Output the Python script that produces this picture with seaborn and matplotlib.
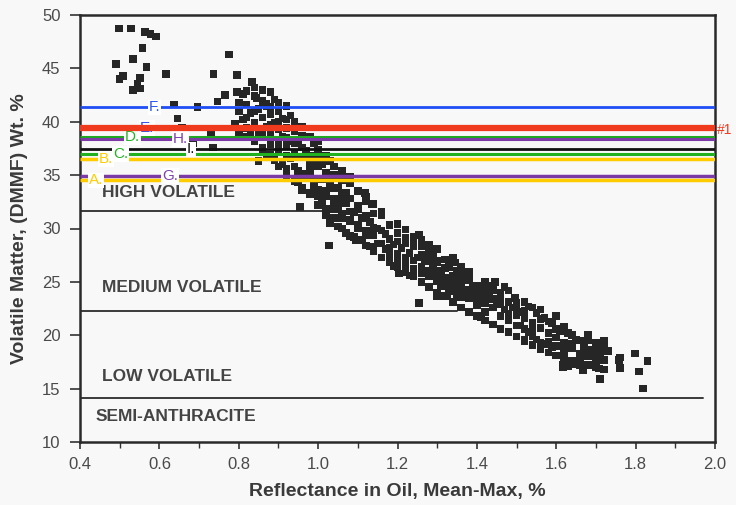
import matplotlib
matplotlib.use("Agg")
import matplotlib.pyplot as plt
import seaborn as sns
import pandas as pd
from matplotlib.ticker import MultipleLocator

# ── 数据: 反射率 vs 挥发分 ──
sparse_x = [0.498, 0.528, 0.564, 0.578, 0.591, 0.557, 0.533, 0.491, 0.568, 0.508,
            0.551, 0.617, 0.534, 0.551, 0.776, 0.736, 0.795, 0.834, 0.795, 0.765,
            0.746, 0.845, 0.637, 0.696, 0.646, 0.870, 0.657, 0.685, 0.735, 0.500,
            0.545, 0.730]
sparse_y = [48.75, 48.75, 48.4, 48.2, 47.97, 46.9, 45.9, 45.4, 45.15, 44.3,
            44.1, 44.5, 42.97, 43.1, 46.3, 44.45, 44.4, 43.75, 42.8, 42.5,
            41.9, 42.2, 41.6, 41.4, 40.3, 41.7, 39.4, 38.0, 37.6, 44.0,
            43.6, 39.0]

band_x = [
    0.80, 0.81, 0.82, 0.82, 0.83, 0.84, 0.84, 0.85, 0.85, 0.86, 0.86, 0.87, 0.87,
    0.88, 0.88, 0.89, 0.89, 0.90, 0.90, 0.91, 0.83, 0.79, 0.81, 0.92, 0.93,
    0.86, 0.87, 0.88, 0.89, 0.90, 0.90, 0.91, 0.91, 0.92, 0.92, 0.93, 0.93,
    0.94, 0.94, 0.95, 0.95, 0.96, 0.96, 0.97, 0.97, 0.88, 0.85, 0.98, 0.99, 1.00,
    0.95, 0.96, 0.97, 0.98, 0.98, 0.99, 1.00, 1.00, 1.01, 1.01, 1.02, 1.02,
    1.03, 1.03, 1.04, 1.04, 1.05, 1.05, 1.06, 1.06, 1.07, 1.08, 1.08, 0.99, 1.01,
    1.02, 1.03, 1.04, 1.05, 1.06, 1.07, 1.07, 1.08, 1.09, 1.09, 1.10, 1.10,
    1.11, 1.11, 1.12, 1.12, 1.13, 1.14, 1.14, 1.15, 1.15, 1.16, 1.13, 1.17,
    1.17, 1.18, 1.18, 1.19, 1.20, 1.20, 1.21, 1.22, 1.22, 1.23, 1.24, 1.24,
    1.25, 1.26, 1.26, 1.27, 1.28, 1.28, 1.19, 1.29, 1.23,
    1.29, 1.30, 1.30, 1.31, 1.31, 1.32, 1.32, 1.33, 1.33, 1.34, 1.35, 1.35,
    1.36, 1.36, 1.37, 1.34, 1.38,
    1.38, 1.39, 1.40, 1.40, 1.41, 1.42, 1.42, 1.43, 1.44, 1.44, 1.45, 1.46,
    1.46, 1.47, 1.48, 1.48, 1.49, 1.50, 1.41, 1.47,
    1.50, 1.51, 1.51, 1.52, 1.53, 1.53, 1.54, 1.55, 1.55, 1.56, 1.57, 1.57,
    1.58, 1.59, 1.59, 1.60, 1.60, 1.61, 1.54, 1.52,
    1.62, 1.62, 1.63, 1.64, 1.64, 1.65, 1.66, 1.66, 1.67, 1.68, 1.68, 1.69,
    1.70, 1.70, 1.71, 1.72, 1.73, 1.63, 1.72,
]
band_y = [
    41.0, 40.2, 41.6, 39.4, 40.8, 42.4, 39.9, 41.2, 38.8, 40.4, 42.0, 39.5, 41.5,
    40.7, 38.6, 42.1, 39.9, 41.0, 38.2, 40.3, 38.9, 39.8, 42.6, 39.4, 40.6,
    37.6, 36.9, 37.9, 36.4, 37.2, 39.3, 38.6, 36.0, 37.7, 35.6, 38.2, 36.6,
    39.1, 37.0, 38.0, 35.4, 36.7, 38.7, 37.3, 35.1, 39.0, 36.3, 36.2, 38.0, 36.9,
    34.3, 33.6, 34.8, 33.2, 35.5, 34.1, 35.8, 33.0, 34.6, 32.4, 35.2, 33.5,
    34.0, 36.3, 32.8, 35.0, 33.8, 31.9, 34.5, 32.6, 33.3, 31.6, 34.2, 36.4, 36.0,
    31.2, 30.5, 31.8, 30.2, 31.0, 29.6, 32.4, 30.7, 31.5, 29.2, 32.1, 30.3,
    31.0, 28.9, 29.8, 32.6, 30.6, 29.4, 31.4, 30.0, 28.6, 31.2, 28.3, 29.5,
    28.1, 29.0, 27.4, 28.5, 29.6, 27.0, 28.2, 26.6, 29.1, 27.7, 28.7, 26.2,
    27.3, 28.3, 25.8, 26.9, 27.8, 25.5, 26.5, 26.4, 25.6,
    27.5, 25.1, 26.8, 24.6, 26.0, 27.1, 25.4, 24.1, 26.4, 25.0, 26.0, 23.8,
    24.7, 25.8, 24.3, 27.3, 25.2,
    23.5, 24.5, 22.8, 24.0, 23.2, 24.6, 22.2, 23.7, 22.6, 24.2, 23.0, 21.8,
    23.6, 22.4, 23.1, 21.4, 22.6, 21.9, 21.7, 24.5,
    23.0, 22.2, 20.9, 21.6, 22.7, 20.3, 21.2, 22.1, 19.6, 20.7, 21.6, 19.2,
    20.2, 21.1, 18.9, 19.8, 21.8, 20.4, 19.9, 19.4,
    19.3, 18.1, 20.2, 18.8, 17.6, 19.6, 18.3, 17.2, 19.0, 18.0, 20.0, 18.6,
    17.5, 19.3, 18.2, 17.7, 18.5, 17.1, 19.5,
]

# 主带补充点: 每个反射率列上的挥发分读数
fill_x = [0.80, 0.82, 0.84, 0.86, 0.88, 0.90, 0.92, 0.94, 0.96, 0.98,
          1.00, 1.02, 1.04, 1.06, 1.08, 1.10, 1.12, 1.14, 1.16, 1.18,
          1.20, 1.22, 1.24, 1.26, 1.28, 1.30, 1.32, 1.34, 1.36, 1.38,
          1.40, 1.42, 1.44, 1.46, 1.48, 1.50, 1.52, 1.54, 1.56, 1.58,
          1.60, 1.62, 1.64, 1.66, 1.68, 1.70, 1.72]
fill_y = [
    [39.0, 41.8], [38.6, 40.4, 42.9], [38.2, 41.0, 43.2], [37.2, 39.0, 41.7, 43.0],
    [36.9, 39.7, 41.4, 42.8], [35.8, 37.8, 40.0, 41.8], [35.0, 36.8, 38.5, 40.2, 41.5],
    [34.4, 35.8, 38.0, 40.0], [33.8, 35.0, 37.6, 39.5], [33.3, 34.8, 36.8, 38.6],
    [32.2, 33.6, 34.7, 37.4, 38.2], [31.8, 33.0, 34.8, 36.8], [31.0, 32.3, 33.8, 35.8],
    [30.0, 31.4, 33.2, 35.4], [29.3, 30.8, 32.8, 34.8], [28.9, 30.0, 31.8, 33.5],
    [28.4, 29.4, 31.2, 33.0], [27.9, 30.1, 32.3], [27.3, 28.6, 29.8, 31.6],
    [26.8, 28.2, 30.3], [26.4, 27.6, 28.8, 30.4], [25.9, 27.3, 28.6, 29.9],
    [25.5, 27.0, 28.3, 29.2], [25.0, 26.4, 27.5, 28.9], [24.5, 26.0, 27.1, 28.5],
    [24.0, 25.7, 27.0, 28.1], [23.7, 24.8, 26.3], [23.1, 24.3, 25.6, 26.8],
    [22.6, 23.6, 25.1, 26.4], [22.2, 24.0, 25.9], [21.8, 23.3, 24.6],
    [21.4, 23.0, 23.9, 25.0], [21.0, 23.4, 24.6], [20.6, 22.9, 24.0],
    [20.3, 22.0, 24.2], [19.9, 20.9, 22.6], [19.6, 20.6, 22.3, 23.1],
    [19.1, 20.5, 22.6], [18.7, 19.3, 21.5, 22.4], [18.4, 19.4, 21.3],
    [18.1, 19.0, 20.6], [17.7, 18.7, 20.8], [17.3, 19.2, 20.0], [17.8, 19.5],
    [17.2, 18.5, 19.5], [17.0, 18.0, 18.9], [16.8, 18.9],
]

outlier_x = [1.617, 1.667, 1.710, 1.707, 1.758, 1.760, 1.798, 1.830, 1.808, 1.818,
             0.954, 1.135, 1.118, 1.027, 1.204, 1.254, 1.300, 1.324, 1.352, 1.254,
             1.095, 1.345, 1.445, 1.496, 1.760, 1.617]
outlier_y = [17.0, 16.75, 15.9, 16.9, 17.7, 16.95, 18.3, 17.6, 16.6, 15.0,
             32.0, 32.3, 33.3, 28.4, 25.8, 23.0, 23.7, 23.7, 24.0, 29.4,
             28.9, 26.8, 25.0, 23.5, 17.9, 17.2]

# 煤级分界线 (挥发分, 右端反射率)
rank_names = ["HIGH VOLATILE", "MEDIUM VOLATILE", "LOW VOLATILE", "SEMI-ANTHRACITE"]
rank_label_y = [33.4, 24.5, 16.1, 12.4]
bound_y = [31.6, 22.3, 14.1]
bound_xend = [1.01, 1.35, 1.97]

# 样品水平线
samp_names = ["F.", "E.", "D.", "H.", "I.", "C.", "B.", "G.", "A."]
samp_vm = [41.35, 39.4, 38.57, 38.36, 37.42, 37.0, 36.5, 34.9, 34.5]
samp_label_x = [0.574, 0.551, 0.513, 0.634, 0.669, 0.483, 0.448, 0.607, 0.423]
samp_line_color = ["#1f4ef5", "#f03a1e", "#20a820", "#7b3aa5", "#111111",
                   "#20b020", "#ffcc00", "#7b3aa5", "#ffcc00"]
samp_text_color = ["#2a55f0", "#3050f0", "#22b522", "#8040b0", "#111111",
                   "#22b522", "#ffcc00", "#8040b0", "#ffcc00"]
samp_lw = [2.0, 4.5, 2.2, 2.2, 2.0, 2.2, 2.5, 2.5, 2.5]

sns.set_theme(style="white")
plt.rcParams["font.family"] = ["Liberation Sans", "DejaVu Sans"]

bg = "#f8f8f8"
fig = plt.figure(figsize=(7.36, 5.05), dpi=100, facecolor=bg)
ax = fig.add_axes([80 / 736, 63 / 505, 635 / 736, 427 / 505], facecolor=bg)

fx, fy = [], []
for xv, ys in zip(fill_x, fill_y):
    fx += [xv] * len(ys)
    fy += ys

df = pd.DataFrame({
    "x": sparse_x + band_x + fx + outlier_x,
    "y": sparse_y + band_y + fy + outlier_y,
})
sns.scatterplot(data=df, x="x", y="y", marker="s", s=30, color="#262626",
                edgecolor="none", ax=ax, zorder=2)

for yv, xe in zip(bound_y, bound_xend):
    ax.plot([0.4, xe], [yv, yv], color="#3a3a3a", lw=1.4, zorder=1)

for name, yv in zip(rank_names, rank_label_y):
    ax.text(0.455 if name != "SEMI-ANTHRACITE" else 0.44, yv, name, fontsize=12.5,
            fontweight="bold", color="#444444", va="center", ha="left")

for i, (name, yv, lx) in enumerate(zip(samp_names, samp_vm, samp_label_x)):
    ax.plot([0.4, 2.0], [yv, yv], color=samp_line_color[i], lw=samp_lw[i],
            zorder=4 if name == "E." else 3, solid_capstyle="butt")
    ax.text(lx, yv, name, fontsize=11, color=samp_text_color[i], va="center",
            ha="left", zorder=3.5,
            bbox=dict(facecolor="white", edgecolor="none", pad=0.5))

ax.text(2.006, 39.2, "#1", fontsize=10, color="#f03a1e", va="center", ha="left",
        clip_on=False)

ax.set_xlim(0.4, 2.0)
ax.set_ylim(10, 50)
ax.xaxis.set_major_locator(MultipleLocator(0.2))
ax.xaxis.set_minor_locator(MultipleLocator(0.1))
ax.yaxis.set_major_locator(MultipleLocator(5))
ax.set_xticklabels([f"{v:.1f}" for v in ax.get_xticks()])
ax.tick_params(axis="x", which="major", length=5, width=1.2, pad=6,
               labelsize=12, labelcolor="#4a4a4a", color="#333333", bottom=True)
ax.tick_params(axis="x", which="minor", length=4, width=1.0, color="#333333",
               bottom=True)
ax.tick_params(axis="y", which="major", length=7, width=1.2, pad=7,
               labelsize=12, labelcolor="#4a4a4a", color="#333333", left=True)

for sp in ax.spines.values():
    sp.set_color("#2a2a2a")
    sp.set_linewidth(1.8)

ax.set_xlabel("Reflectance in Oil, Mean-Max, %", fontsize=14, fontweight="bold",
              color="#3a3a3a", labelpad=8)
ax.set_ylabel("Volatile Matter, (DMMF) Wt. %", fontsize=14, fontweight="bold",
              color="#3a3a3a", labelpad=10)

fig.savefig("out.png", dpi=100, facecolor=bg)
